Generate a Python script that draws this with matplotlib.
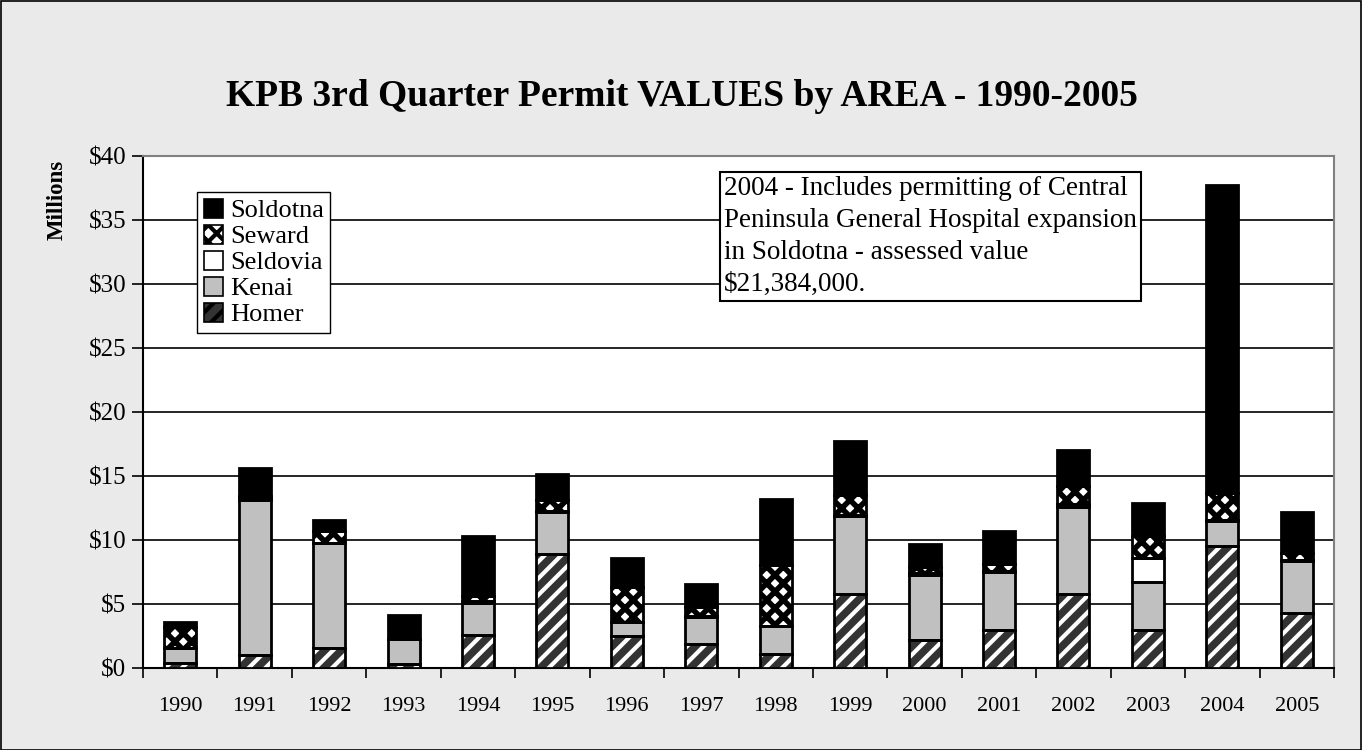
import matplotlib
matplotlib.use("Agg")
import matplotlib.pyplot as plt
import numpy as np
from matplotlib.patches import Patch, Rectangle

years = ["1990", "1991", "1992", "1993", "1994", "1995", "1996", "1997",
         "1998", "1999", "2000", "2001", "2002", "2003", "2004", "2005"]
homer = [0.4, 1.0, 1.55, 0.35, 2.55, 8.9, 2.5, 1.85, 1.1, 5.8, 2.2, 3.0, 5.8, 3.0, 9.55, 4.3]
kenai = [1.2, 12.1, 8.2, 1.9, 2.55, 3.25, 1.1, 2.15, 2.2, 6.1, 5.1, 4.5, 6.75, 3.75, 1.95, 4.07]
seldovia = [0.0, 0.1, 0.05, 0.0, 0.1, 0.1, 0.0, 0.1, 0.0, 0.05, 0.1, 0.1, 0.25, 1.85, 0.05, 0.1]
seward = [1.6, 0.2, 0.9, 0.0, 0.4, 0.85, 2.7, 0.7, 4.76, 1.55, 0.5, 0.5, 1.4, 1.7, 2.12, 0.5]
soldotna = [0.4, 2.2, 0.88, 1.9, 4.75, 2.05, 2.3, 1.77, 5.14, 4.26, 1.8, 2.6, 2.8, 2.6, 24.03, 3.18]
yticks = [0, 5, 10, 15, 20, 25, 30, 35, 40]
ytick_labels = ["$0", "$5", "$10", "$15", "$20", "$25", "$30", "$35", "$40"]

title = "KPB 3rd Quarter Permit VALUES by AREA - 1990-2005"
note = ("2004 - Includes permitting of Central\n"
        "Peninsula General Hospital expansion\n"
        "in Soldotna - assessed value\n"
        "$21,384,000.")

plt.rcParams['font.family'] = ['Liberation Serif', 'DejaVu Serif']
plt.rcParams['hatch.linewidth'] = 3.0

W, H = 1362, 750
fig = plt.figure(figsize=(W / 100, H / 100), dpi=100, facecolor="#EAEAEA")
fig.patches.append(Rectangle((0.5 / W, 0.5 / H), 1 - 1.5 / W, 1 - 1.5 / H,
                             transform=fig.transFigure, fill=False,
                             edgecolor="black", linewidth=1.2))

ax = fig.add_axes([143 / W, 1 - 668 / H, (1334 - 143) / W, (668 - 156) / H])
ax.set_facecolor("white")

x = np.arange(len(years))
width = 0.43

series = [
    ("Homer", homer, dict(color="#333333", hatch="//", hcolor="white", hlw=3.0)),
    ("Kenai", kenai, dict(color="#C0C0C0", hatch=None, hcolor=None, hlw=3.0)),
    ("Seldovia", seldovia, dict(color="white", hatch=None, hcolor=None, hlw=3.0)),
    ("Seward", seward, dict(color="white", hatch="xx", hcolor="black", hlw=4.0)),
    ("Soldotna", soldotna, dict(color="black", hatch=None, hcolor=None, hlw=3.0)),
]

bottom = np.zeros(len(years))
handles = {}
for name, vals, st in series:
    vals = np.array(vals)
    with plt.rc_context({'hatch.linewidth': st["hlw"]}):
        if st["hatch"]:
            ax.bar(x, vals, width, bottom=bottom, color=st["color"],
                   hatch=st["hatch"], edgecolor=st["hcolor"], linewidth=0, zorder=3)
        else:
            ax.bar(x, vals, width, bottom=bottom, color=st["color"], linewidth=0, zorder=3)
        handles[name] = Patch(facecolor=st["color"], hatch=st["hatch"],
                              edgecolor="black", linewidth=1.2)
    ax.bar(x, vals, width, bottom=bottom, fill=False, edgecolor="black",
           linewidth=2.0, zorder=4)
    bottom += vals

ax.set_xlim(-0.5, len(years) - 0.5)
ax.set_ylim(0, 40)
ax.set_yticks(yticks)
ax.set_yticklabels(ytick_labels, fontsize=18)
ax.set_xticks(x)
ax.set_xticklabels(years, fontsize=16)
ax.set_xticks(np.arange(len(years) + 1) - 0.5, minor=True)
ax.tick_params(axis="x", which="major", length=0, pad=21)
ax.tick_params(axis="x", which="minor", length=7, width=1.2, direction="out")
ax.tick_params(axis="y", length=8, width=1.2, direction="out", pad=4)
ax.yaxis.grid(True, color="black", linewidth=1.2, zorder=0)
ax.set_axisbelow(True)
for s in ["left", "bottom"]:
    ax.spines[s].set_color("black")
    ax.spines[s].set_linewidth(1.5)
for s in ["right", "top"]:
    ax.spines[s].set_color("#808080")
    ax.spines[s].set_linewidth(1.5)

order = ["Soldotna", "Seward", "Seldovia", "Kenai", "Homer"]
leg = ax.legend([handles[n] for n in order], order, loc="upper left",
                bbox_to_anchor=((197 - 143) / (1334 - 143), 1 - (192 - 156) / (668 - 156)),
                fontsize=19, frameon=True, fancybox=False, framealpha=1,
                edgecolor="black", borderpad=0.25, handlelength=0.75,
                handleheight=0.75, handletextpad=0.25, labelspacing=0.08,
                borderaxespad=0)
leg.get_frame().set_linewidth(1.0)
leg.set_zorder(6)

ax.text((724 - 143) / (1334 - 143), 1 - (176 - 156) / (668 - 156), note,
        transform=ax.transAxes, ha="left", va="top", fontsize=19.5,
        linespacing=1.36, zorder=7,
        bbox=dict(boxstyle="square,pad=0.15", facecolor="white",
                  edgecolor="black", linewidth=1.5))

fig.text(682 / W, 1 - 97 / H, title, ha="center", va="center",
         fontsize=27, fontweight="bold")
fig.text(57 / W, 1 - 200 / H, "Millions", ha="center", va="center",
         rotation=90, fontsize=16.5, fontweight="bold")

fig.savefig("out.png", dpi=100, facecolor=fig.get_facecolor())
